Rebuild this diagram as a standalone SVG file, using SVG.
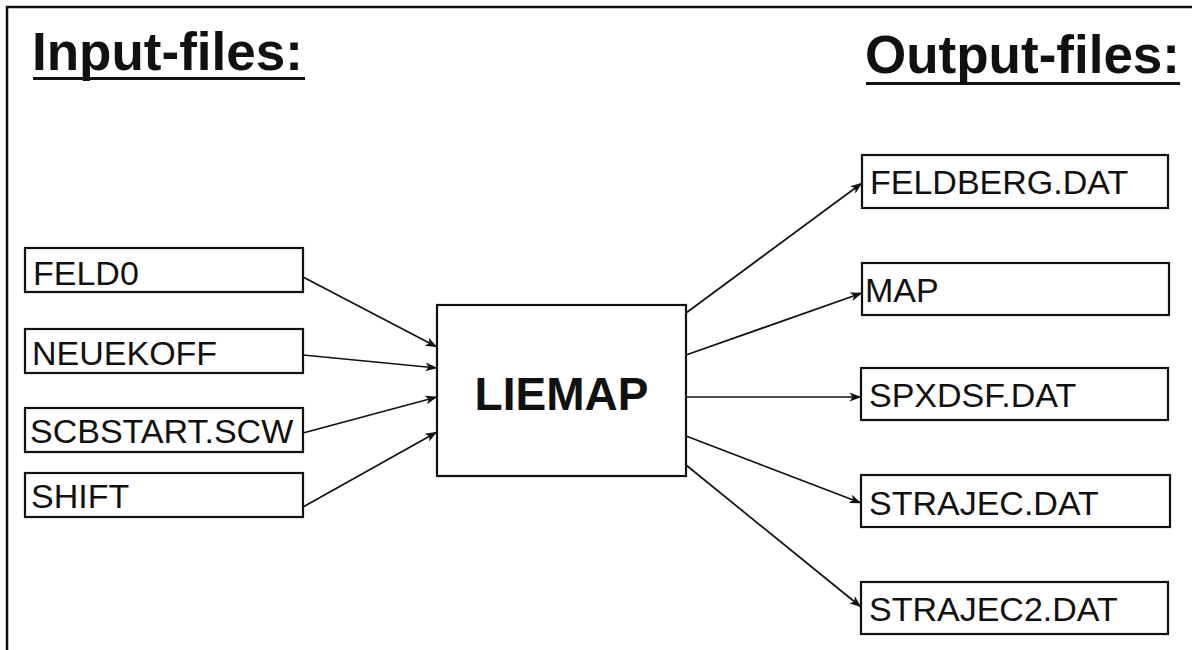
<svg xmlns="http://www.w3.org/2000/svg" width="1192" height="650" viewBox="0 0 1192 650">
  <defs>
    <marker id="arrow" viewBox="0 0 12 10" refX="11.5" refY="5" markerWidth="13" markerHeight="10" markerUnits="userSpaceOnUse" orient="auto">
      <path d="M0,0.5 L12,5 L0,9.5 L3,5 Z" fill="#111"/>
    </marker>
  </defs>
  <style>
    .frame { fill: none; stroke: #111; stroke-width: 2.5; }
    .box { fill: #fff; stroke: #111; stroke-width: 2.2; }
    .label { font-family: "Liberation Sans", Arial, sans-serif; font-size: 34px; fill: #111; }
    .title { font-family: "Liberation Sans", Arial, sans-serif; font-size: 53px; font-weight: bold; fill: #111; }
    .rule { stroke: #111; stroke-width: 3; }
    .main { font-family: "Liberation Sans", Arial, sans-serif; font-size: 46px; font-weight: bold; fill: #111; }
    .edge { fill: none; stroke: #111; stroke-width: 1.7; marker-end: url(#arrow); }
  </style>

  <rect width="1192" height="650" fill="#fff"/>
  <!-- page frame -->
  <rect class="frame" x="7" y="7" width="1195" height="660"/>

  <!-- headings -->
  <g id="title-input">
    <text class="title" x="32" y="70">Input-files:</text>
    <line class="rule" x1="33" y1="78.5" x2="305" y2="78.5"/>
  </g>
  <g id="title-output">
    <text class="title" x="865" y="73">Output-files:</text>
    <line class="rule" x1="866" y1="83.5" x2="1180" y2="83.5"/>
  </g>

  <!-- connectors -->
  <g id="connectors">
    <line class="edge" x1="303" y1="277" x2="437" y2="347"/>
    <line class="edge" x1="303" y1="355" x2="437" y2="368"/>
    <line class="edge" x1="303" y1="433" x2="437" y2="397"/>
    <line class="edge" x1="303" y1="507" x2="437" y2="432"/>
    <line class="edge" x1="686" y1="313" x2="862" y2="183"/>
    <line class="edge" x1="686" y1="355" x2="862" y2="293"/>
    <line class="edge" x1="686" y1="397" x2="861" y2="397"/>
    <line class="edge" x1="686" y1="436" x2="861" y2="503"/>
    <line class="edge" x1="686" y1="465" x2="861" y2="607"/>
  </g>

  <!-- input files -->
  <g id="in-feld0">
    <rect class="box" x="25" y="248" width="278" height="44"/>
    <text class="label" x="33" y="285">FELD0</text>
  </g>
  <g id="in-neuekoff">
    <rect class="box" x="25" y="329" width="278" height="44"/>
    <text class="label" x="32" y="365">NEUEKOFF</text>
  </g>
  <g id="in-scbstart">
    <rect class="box" x="25" y="408" width="278" height="44"/>
    <text class="label" x="30" y="443">SCBSTART.SCW</text>
  </g>
  <g id="in-shift">
    <rect class="box" x="25" y="473" width="278" height="44"/>
    <text class="label" x="31" y="508">SHIFT</text>
  </g>

  <!-- processing program -->
  <g id="liemap">
    <rect class="box" x="437" y="305" width="249" height="171" stroke-width="2.6"/>
    <text class="main" x="561.5" y="410" text-anchor="middle">LIEMAP</text>
  </g>

  <!-- output files -->
  <g id="out-feldberg">
    <rect class="box" x="862" y="155" width="306" height="53"/>
    <text class="label" x="870" y="194">FELDBERG.DAT</text>
  </g>
  <g id="out-map">
    <rect class="box" x="862" y="263" width="307" height="52"/>
    <text class="label" x="865" y="302">MAP</text>
  </g>
  <g id="out-spxdsf">
    <rect class="box" x="861" y="368" width="307" height="52"/>
    <text class="label" x="869" y="407">SPXDSF.DAT</text>
  </g>
  <g id="out-strajec">
    <rect class="box" x="861" y="475" width="309" height="52"/>
    <text class="label" x="869" y="515">STRAJEC.DAT</text>
  </g>
  <g id="out-strajec2">
    <rect class="box" x="861" y="582" width="307" height="52"/>
    <text class="label" x="869" y="621">STRAJEC2.DAT</text>
  </g>
</svg>
